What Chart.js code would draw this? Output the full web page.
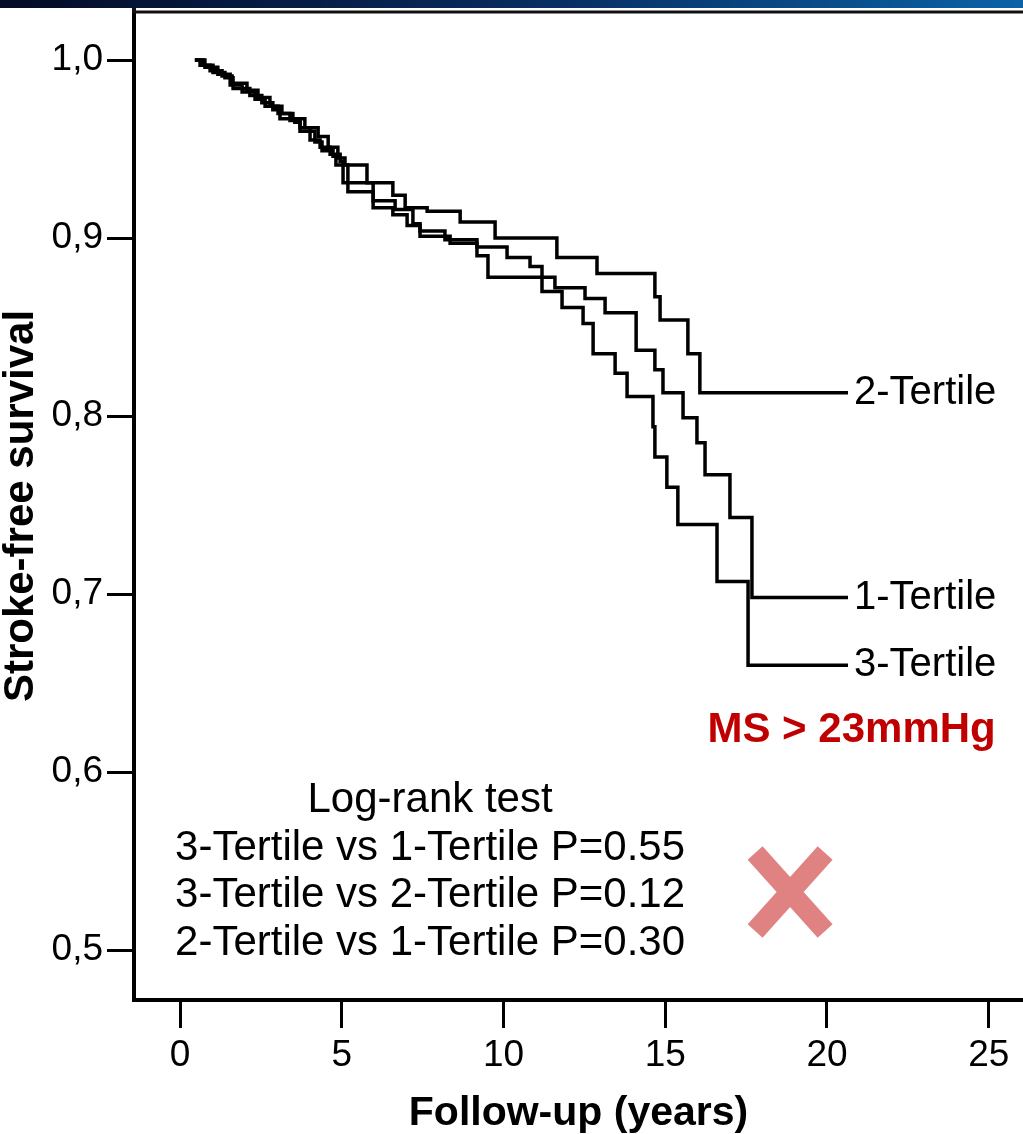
<!DOCTYPE html>
<html><head><meta charset="utf-8">
<script src="https://cdn.jsdelivr.net/npm/chart.js@4.4.1/dist/chart.umd.min.js"></script>
<style>html,body{margin:0;padding:0;background:#fff;overflow:hidden}canvas{display:block}</style>
</head><body>
<canvas id="c" width="1023" height="1134"></canvas>
<script>
// ---- data ----
const xTicks = [0, 5, 10, 15, 20, 25];
const xTickLabels = ['0', '5', '10', '15', '20', '25'];
const yTicks = [0.5, 0.6, 0.7, 0.8, 0.9, 1.0];
const yTickLabels = ['0,5', '0,6', '0,7', '0,8', '0,9', '1,0'];
const xTitle = 'Follow-up (years)';
const yTitle = 'Stroke-free survival';
const seriesNames = ['1-Tertile', '2-Tertile', '3-Tertile'];

const t1Times = [0.46,0.71,1.02,1.39,1.64,2.16,2.53,2.87,3.09,3.55,3.71,4.17,4.39,4.73,4.82,5.19,5.97,6.58,7.02,7.42,8.35,9.18,9.52,11.59,12.52,13.14,14.10,14.68,14.93,15.55,15.98,16.23,17.00,17.68,20.65];
const t1Surv  = [1.000,0.997,0.993,0.990,0.984,0.980,0.976,0.972,0.967,0.965,0.960,0.954,0.949,0.946,0.941,0.926,0.917,0.913,0.907,0.901,0.897,0.890,0.878,0.872,0.866,0.858,0.837,0.826,0.813,0.799,0.785,0.767,0.743,0.698,0.698];

const t2Times = [0.46,0.62,0.93,1.30,1.61,2.07,2.41,2.78,3.15,3.49,3.86,4.27,4.58,4.88,5.10,5.78,6.58,6.96,7.64,8.66,9.74,11.65,12.89,14.68,14.84,15.70,16.07,20.65];
const t2Surv  = [1.000,0.997,0.994,0.991,0.987,0.983,0.979,0.974,0.970,0.967,0.962,0.957,0.951,0.945,0.941,0.931,0.924,0.917,0.915,0.909,0.900,0.889,0.880,0.867,0.854,0.835,0.813,0.813];

const t3Times = [0.46,0.77,1.17,1.55,1.92,2.32,2.63,3.03,3.40,3.71,4.02,4.33,4.64,4.95,5.04,5.97,6.65,7.20,7.42,8.19,9.18,10.11,10.82,11.19,11.81,12.46,12.77,13.45,13.82,14.62,14.68,15.05,15.39,16.60,17.56,20.65];
const t3Surv  = [1.000,0.996,0.992,0.986,0.982,0.978,0.974,0.970,0.966,0.962,0.955,0.951,0.947,0.943,0.931,0.921,0.916,0.908,0.904,0.899,0.895,0.889,0.884,0.870,0.861,0.852,0.835,0.824,0.811,0.794,0.777,0.760,0.739,0.707,0.660,0.660];

const statsTitle = 'Log-rank test';
const statsLines = ['3-Tertile vs 1-Tertile P=0.55', '3-Tertile vs 2-Tertile P=0.12', '2-Tertile vs 1-Tertile P=0.30'];
const subgroupLabel = 'MS > 23mmHg';

// ---- build ----
const FONT = '"Liberation Sans", Arial, Helvetica, sans-serif';
function pts(t, s) { return t.map((v, i) => ({x: v, y: s[i]})); }
const seriesTimes = [t1Times, t2Times, t3Times];
const seriesSurv = [t1Surv, t2Surv, t3Surv];

const datasets = seriesNames.map((n, i) => ({
  label: n,
  data: pts(seriesTimes[i], seriesSurv[i]),
  stepped: 'before',
  borderColor: '#000',
  borderWidth: 3.5,
  pointRadius: 0,
  fill: false,
  borderJoinStyle: 'miter',
  borderCapStyle: 'butt'
}));

const decor = {
  id: 'decor',
  beforeDraw(chart) {
    const ctx = chart.ctx;
    ctx.save();
    ctx.fillStyle = '#fff';
    ctx.fillRect(0, 0, chart.width, chart.height);
    const g = ctx.createLinearGradient(0, 0, chart.width, 0);
    g.addColorStop(0, '#040b26');
    g.addColorStop(0.5, '#082a5c');
    g.addColorStop(1, '#0b62a6');
    ctx.fillStyle = g;
    ctx.fillRect(0, 0, chart.width, 8);
    ctx.restore();
  },
  afterDraw(chart) {
    const ctx = chart.ctx;
    const xs = chart.scales.x, ys = chart.scales.y;
    const ca = chart.chartArea;
    ctx.save();
    // top frame line
    ctx.strokeStyle = '#111';
    ctx.lineWidth = 3;
    ctx.beginPath();
    ctx.moveTo(ca.left - 2, ca.top);
    ctx.lineTo(ca.right, ca.top);
    ctx.stroke();
    ctx.beginPath();
    ctx.moveTo(ca.left, 8);
    ctx.lineTo(ca.left, ca.top);
    ctx.lineWidth = 4;
    ctx.stroke();

    // end-of-curve labels
    ctx.fillStyle = '#000';
    ctx.font = '40px ' + FONT;
    ctx.textAlign = 'left';
    ctx.textBaseline = 'middle';
    seriesNames.forEach((n, i) => {
      const t = seriesTimes[i], s = seriesSurv[i];
      const px = xs.getPixelForValue(t[t.length - 1]) + 6;
      const py = ys.getPixelForValue(s[s.length - 1]);
      ctx.fillText(n, px, py);
    });

    // log-rank block
    ctx.font = '42px ' + FONT;
    ctx.textAlign = 'center';
    ctx.textBaseline = 'alphabetic';
    const cx = xs.getPixelForValue(7.73);
    let by = ys.getPixelForValue(0.5775);
    ctx.fillText(statsTitle, cx, by);
    statsLines.forEach((l, i) => ctx.fillText(l, cx, by + 47.7 * (i + 1)));

    // subgroup label
    ctx.font = 'bold 42px ' + FONT;
    ctx.fillStyle = '#c00000';
    ctx.textBaseline = 'middle';
    ctx.fillText(subgroupLabel, xs.getPixelForValue(20.76), ys.getPixelForValue(0.6236));

    // pink cross
    const mx = xs.getPixelForValue(18.86), my = ys.getPixelForValue(0.5326);
    ctx.strokeStyle = '#e08282';
    ctx.lineWidth = 20;
    ctx.lineCap = 'butt';
    ctx.beginPath();
    ctx.moveTo(mx - 35, my - 39); ctx.lineTo(mx + 35, my + 39);
    ctx.moveTo(mx + 35, my - 39); ctx.lineTo(mx - 35, my + 39);
    ctx.stroke();
    ctx.restore();
  }
};

new Chart(document.getElementById('c'), {
  type: 'line',
  data: {datasets},
  plugins: [decor],
  options: {
    responsive: false,
    animation: false,
    devicePixelRatio: 1,
    layout: {padding: {top: 12, left: 0, right: 0, bottom: 0}},
    plugins: {legend: {display: false}, tooltip: {enabled: false}},
    scales: {
      x: {
        type: 'linear',
        min: -1.422, max: 26.059,
        afterFit(s) { s.height = 134; s.paddingLeft = 0; s.paddingRight = 0; },
        afterBuildTicks(s) { s.ticks = xTicks.map(v => ({value: v})); },
        ticks: {
          callback: (v) => xTickLabels[xTicks.indexOf(v)],
          font: {family: FONT, size: 37}, color: '#000', padding: 6, maxRotation: 0, autoSkip: false
        },
        grid: {drawOnChartArea: false, drawTicks: true, tickLength: 28, tickWidth: 3, tickColor: '#000', color: '#000'},
        border: {display: true, color: '#000', width: 4},
        title: {display: true, text: xTitle, color: '#000', font: {family: FONT, size: 41, weight: 'bold', lineHeight: 1}, padding: 0}
      },
      y: {
        type: 'linear',
        min: 0.47191, max: 1.02697,
        afterFit(s) { s.width = 134; s.paddingTop = 0; s.paddingBottom = 0; },
        afterBuildTicks(s) { s.ticks = yTicks.map(v => ({value: v})); },
        ticks: {
          callback: (v) => yTickLabels[yTicks.findIndex(t => Math.abs(t - v) < 1e-9)],
          font: {family: FONT, size: 37}, color: '#000', padding: 4, autoSkip: false
        },
        grid: {drawOnChartArea: false, drawTicks: true, tickLength: 27, tickWidth: 3, tickColor: '#000', color: '#000'},
        border: {display: true, color: '#000', width: 4},
        title: {display: true, text: yTitle, color: '#000', font: {family: FONT, size: 42, weight: 'bold', lineHeight: 1}, padding: 0}
      }
    }
  }
});
</script>
</body></html>
